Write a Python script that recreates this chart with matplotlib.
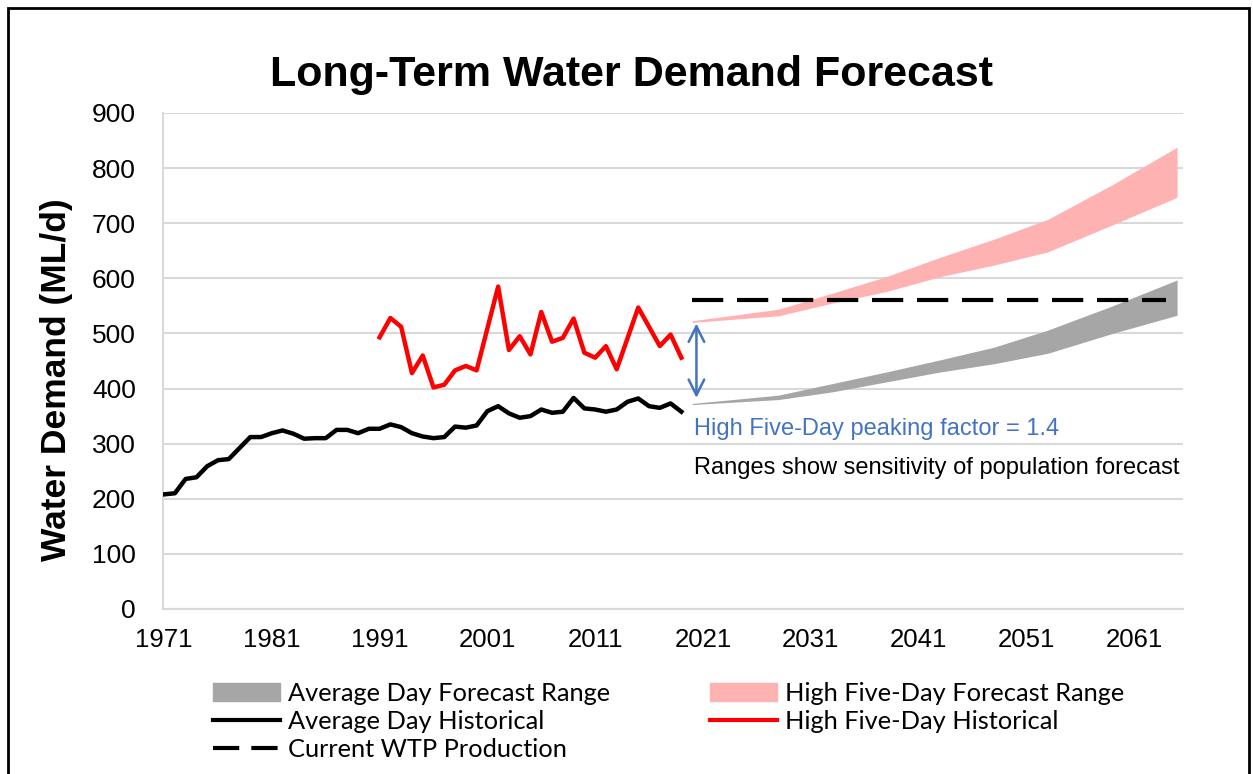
import matplotlib.pyplot as plt
from matplotlib.patches import Patch, Rectangle
from matplotlib.lines import Line2D
import numpy as np

# historical data, 1971-2019
hist_years = list(range(1971, 2020))
avg_day_hist = [208, 210, 236, 239, 259, 270, 272, 292, 312, 312,
                319, 324, 318, 309, 310, 310, 325, 325, 319, 327,
                327, 335, 330, 319, 313, 310, 312, 331, 329, 333,
                359, 368, 355, 347, 350, 362, 356, 358, 383, 364,
                362, 358, 362, 376, 382, 368, 365, 373, 358]

peak_years = list(range(1991, 2020))
high_five_day_hist = [493, 528, 512, 428, 460, 402, 407, 433, 441, 433,
                      509, 585, 470, 495, 462, 539, 485, 492, 527, 465,
                      456, 477, 435, 491, 547, 512, 477, 498, 456]

# forecast ranges
fc_years = [2020, 2028, 2033, 2038, 2043, 2048, 2053, 2059, 2065]
avg_fc_low = [371, 380, 394, 412, 430, 445, 464, 500, 533]
avg_fc_high = [373, 388, 409, 430, 452, 475, 506, 550, 597]
peak_fc_low = [520, 532, 555, 576, 603, 624, 648, 697, 747]
peak_fc_high = [523, 544, 573, 603, 638, 671, 707, 770, 838]

wtp_years = [2020, 2064]
wtp_capacity = [560, 560]

xticks = list(range(1971, 2062, 10))
yticks = list(range(0, 901, 100))

W, H = 1253, 774
fig = plt.figure(figsize=(W / 100, H / 100), dpi=100)
ax = fig.add_axes([163 / W, 1 - 609 / H, (1183 - 163) / W, (609 - 113) / H])

ax.fill_between(fc_years, avg_fc_low, avg_fc_high, color='#A6A6A6', lw=0, zorder=2)
ax.fill_between(fc_years, peak_fc_low, peak_fc_high, color='#FFB2B2', lw=0, zorder=2)
ax.plot(hist_years, avg_day_hist, color='black', lw=3.2, zorder=4, solid_joinstyle='round')
ax.plot(peak_years, high_five_day_hist, color='#FF0000', lw=3.2, zorder=4, solid_joinstyle='round')
ax.plot(wtp_years, wtp_capacity, color='black', lw=3, dashes=(7.5, 3.3), zorder=5)

ax.annotate('', xy=(2020.4, 378), xytext=(2020.4, 523),
            arrowprops=dict(arrowstyle='<->', color='#4472C4', lw=1.8, mutation_scale=28))
ax.text(2020.2, 326, 'High Five-Day peaking factor = 1.4', color='#4472C4',
        fontsize=17, family='Liberation Sans', va='center', ha='left')
ax.text(2020.2, 256, 'Ranges show sensitivity of population forecast', color='black',
        fontsize=17, family='Liberation Sans', va='center', ha='left')

ax.set_xlim(1970.9, 2065.55)
ax.set_ylim(0, 900)
ax.set_xticks(xticks)
ax.set_yticks(yticks)
ax.tick_params(axis='x', length=0, labelsize=18.5, pad=14)
ax.tick_params(axis='y', length=0, labelsize=19, pad=19.5)
for lab in ax.get_xticklabels() + ax.get_yticklabels():
    lab.set_family('Liberation Sans')
ax.grid(axis='y', color='#D9D9D9', lw=1.5)
ax.set_axisbelow(True)
for s in ['top', 'right']:
    ax.spines[s].set_visible(False)
for s in ['left', 'bottom']:
    ax.spines[s].set_color('#D9D9D9')
    ax.spines[s].set_linewidth(1.5)

fig.text(57 / W, 1 - 380 / H, 'Water Demand (ML/d)', fontsize=25.5, fontweight='bold',
         family='Liberation Sans', rotation=90, ha='center', va='center')
fig.text(632 / W, 1 - 75 / H, 'Long-Term Water Demand Forecast', fontsize=31,
         fontweight='bold', family='Liberation Sans', ha='center', va='center')

handles = [Patch(color='#A6A6A6'),
           Line2D([], [], color='black', lw=3),
           Line2D([], [], color='black', lw=3, dashes=(6.3, 2.9)),
           Patch(color='#FFB2B2'),
           Line2D([], [], color='#FF0000', lw=3)]
labels = ['Average Day Forecast Range', 'Average Day Historical', 'Current WTP Production',
          'High Five-Day Forecast Range', 'High Five-Day Historical']
fig.legend(handles, labels, ncol=2, loc='upper left', bbox_to_anchor=(200 / W, 1 - 669 / H),
           frameon=False, prop={'family': 'Lato', 'size': 18.3},
           handlelength=2.64, handleheight=0.7, handletextpad=0.32, labelspacing=0.2,
           columnspacing=3.94, borderpad=0)

fig.patches.append(Rectangle((8 / W, -0.05), (1249 - 8) / W, 1.05 - 8 / H, fill=False,
                             edgecolor='black', lw=2, transform=fig.transFigure, figure=fig))

fig.savefig('out.png', dpi=100)
